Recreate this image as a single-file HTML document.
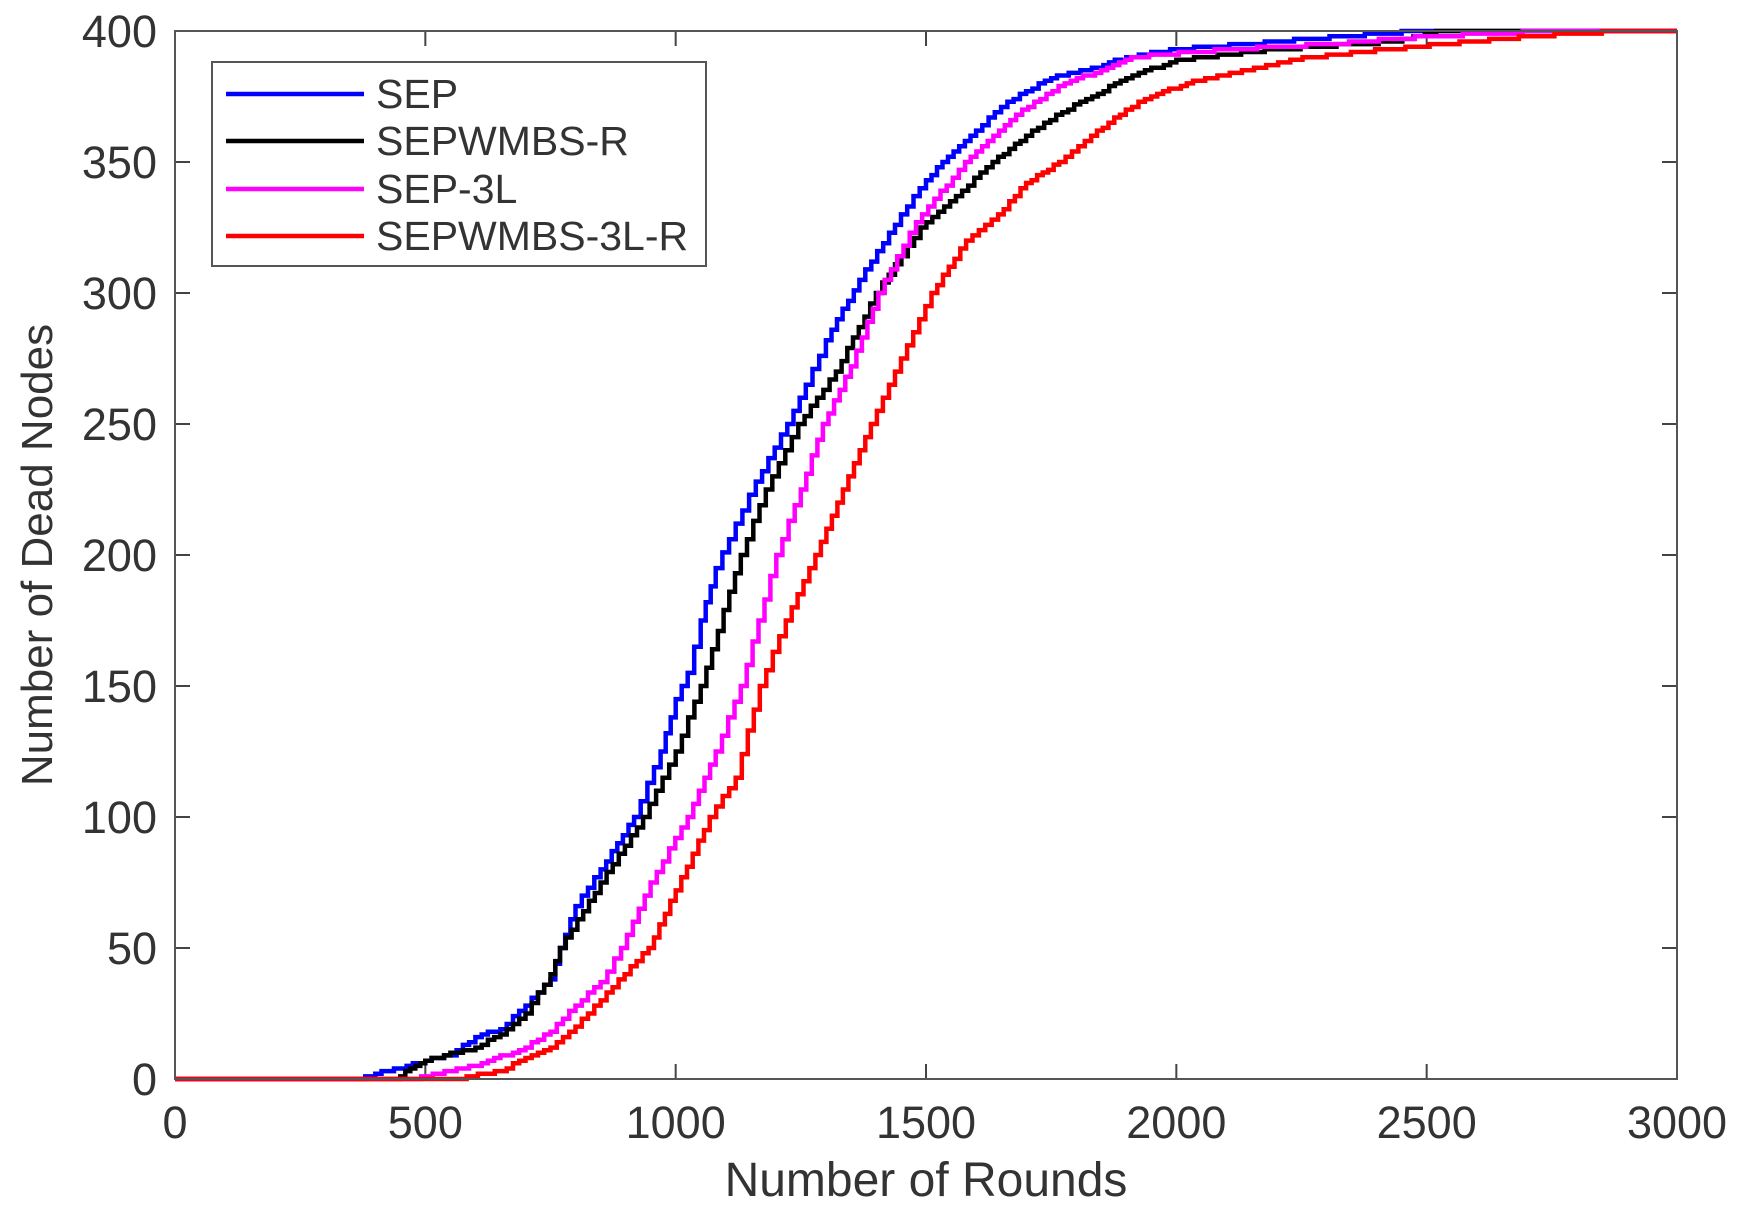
<!DOCTYPE html>
<html><head><meta charset="utf-8"><style>
html,body{margin:0;padding:0;background:#fff;}
svg text{font-family:"Liberation Sans",Arial,sans-serif;fill:#333;}
</style></head><body>
<svg id="s" width="1739" height="1211" viewBox="0 0 1739 1211" xmlns="http://www.w3.org/2000/svg">
<rect width="1739" height="1211" fill="#fff"/>
<g id="ticks" stroke="#444" stroke-width="2"></g>
<g id="series" fill="none" stroke-width="4.5" stroke-linejoin="miter"></g>
<rect x="175" y="31" width="1502" height="1048" fill="none" stroke="#555" stroke-width="2"/>
<g id="labels" font-size="45"></g>
<text x="926" y="1196" font-size="48" text-anchor="middle">Number of Rounds</text>
<text transform="translate(52,555) rotate(-90)" font-size="44" text-anchor="middle">Number of Dead Nodes</text>
<rect x="212" y="62" width="494" height="204" fill="#fff" stroke="#555" stroke-width="2"/>
<g stroke-width="4.5">
<line x1="226" y1="94" x2="364" y2="94" stroke="#0000ff"/>
<line x1="226" y1="141" x2="364" y2="141" stroke="#000"/>
<line x1="226" y1="189" x2="364" y2="189" stroke="#ff00ff"/>
<line x1="226" y1="236" x2="364" y2="236" stroke="#ff0000"/>
</g>
<g font-size="41">
<text x="376" y="108">SEP</text>
<text x="376" y="155">SEPWMBS-R</text>
<text x="376" y="203">SEP-3L</text>
<text x="376" y="250">SEPWMBS-3L-R</text>
</g>
</svg>
<script>
const X=r=>175+r*1502/3000, Y=n=>1079-n*1048/400;
const NS="http://www.w3.org/2000/svg";
const t=document.getElementById('ticks'), lb=document.getElementById('labels');
function el(p,tag,a,txt){const e=document.createElementNS(NS,tag);for(const k in a)e.setAttribute(k,a[k]);if(txt!==undefined)e.textContent=txt;p.appendChild(e);}
for(let r=0;r<=3000;r+=500){const x=X(r);el(t,'line',{x1:x,y1:1079,x2:x,y2:1064});el(t,'line',{x1:x,y1:31,x2:x,y2:46});
 el(lb,'text',{x:x,y:1138,'text-anchor':'middle'},String(r));}
for(let n=0;n<=400;n+=50){const y=Y(n);el(t,'line',{x1:175,y1:y,x2:190,y2:y});el(t,'line',{x1:1677,y1:y,x2:1662,y2:y});
 el(lb,'text',{x:157,y:y+16,'text-anchor':'end'},String(n));}
const data={
"#0000ff":[[0,0],[370,0],[400,2],[450,4],[500,7],[550,9],[600,16],[650,19],[700,28],[750,38],[769,50],[800,66],[850,80],[917,100],[970,125],[1000,145],[1024,155],[1050,175],[1080,195],[1120,212],[1160,228],[1223,250],[1260,265],[1300,282],[1367,305],[1450,330],[1500,343],[1544,352],[1600,362],[1650,371],[1700,377],[1750,382],[1820,385],[1900,390],[2000,393],[2200,396],[2400,399],[2500,400],[3000,400]],
"#000000":[[0,0],[440,0],[470,4],[500,7],[600,12],[650,17],[700,25],[750,40],[769,50],[850,75],[935,100],[1000,125],[1050,150],[1130,200],[1180,225],[1245,250],[1320,270],[1400,300],[1489,325],[1560,337],[1633,350],[1700,360],[1760,368],[1832,375],[1900,382],[2000,389],[2200,393],[2440,396],[2530,400],[3000,400]],
"#ff00ff":[[0,0],[480,0],[550,3],[600,5],[700,12],[750,18],[800,28],[850,37],[891,50],[950,75],[1024,100],[1080,125],[1130,150],[1201,200],[1250,225],[1294,250],[1350,272],[1405,300],[1480,327],[1578,350],[1680,368],[1777,380],[1850,385],[1910,390],[2100,393],[2309,395],[2500,398],[2752,400],[3000,400]],
"#ff0000":[[0,0],[560,0],[650,3],[700,8],[750,12],[800,20],[850,30],[946,50],[1000,72],[1068,100],[1120,115],[1168,150],[1220,175],[1279,200],[1345,230],[1390,250],[1450,275],[1511,300],[1580,320],[1644,330],[1700,342],[1766,350],[1830,360],[1899,370],[1950,375],[2021,380],[2131,385],[2264,390],[2530,395],[2708,398],[2885,400],[3000,400]]};
const g=document.getElementById('series');
for(const c in data){const d=data[c];let pts=[];let prev=null;
 for(let i=0;i<d.length;i++){const [r,n]=d[i];
  if(prev){
   const steps=Math.max(1,Math.round((r-prev[0])/12));
   for(let k=1;k<=steps;k++){const rr=prev[0]+(r-prev[0])*k/steps;const nn=Math.round(prev[1]+(n-prev[1])*k/steps);
    pts.push([X(rr),Y(pts.length?pts[pts.length-1][2]:nn),nn]);pts.push([X(rr),Y(nn),nn]);}
  } else pts.push([X(r),Y(n),n]);
  prev=[r,n];}
 el(g,'polyline',{points:pts.map(p=>p[0].toFixed(1)+','+p[1].toFixed(1)).join(' '),stroke:c});}
</script>
</body></html>
